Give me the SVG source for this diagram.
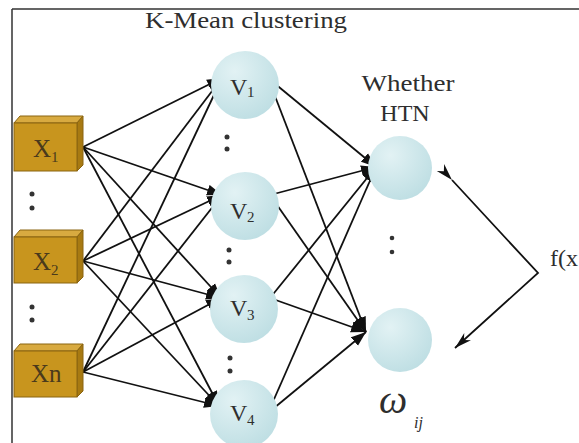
<svg xmlns="http://www.w3.org/2000/svg" width="579" height="443" viewBox="0 0 579 443">
<style>
.lbl{font-family:"Liberation Serif","Times New Roman",serif;fill:#2e2e2e}
.xl{font-family:"Liberation Serif","Times New Roman",serif;fill:#4a3a1c}
.c{stroke:#111;stroke-width:1.8;fill:none}
.front{fill:#C8951E;stroke:#8A6410;stroke-width:1}
.top{fill:#D8AA40;stroke:#8A6410;stroke-width:1}
.side{fill:#A87A12;stroke:#8A6410;stroke-width:1}
.node{fill:url(#cg)}
.dot{fill:#333}
</style>
<defs>
<radialGradient id="cg" cx="0.35" cy="0.3" r="0.8">
<stop offset="0" stop-color="#E2F2F4"/>
<stop offset="1" stop-color="#BCDDE2"/>
</radialGradient>
<marker id="ah" markerUnits="userSpaceOnUse" markerWidth="16" markerHeight="12" refX="15" refY="6" orient="auto">
<path d="M0,0.5 L15,6 L0,11.5 z" fill="#111"/>
</marker>
<marker id="ah2" markerUnits="userSpaceOnUse" markerWidth="18" markerHeight="12" refX="17" refY="6" orient="auto">
<path d="M0,1 L17,6 L0,11 L5,6 z" fill="#111"/>
</marker>
</defs>
<rect width="579" height="443" fill="#fff"/>
<path d="M12,9 H579 M12,9 V443" stroke="#333" stroke-width="1.5" fill="none"/>

<text class="lbl" x="246" y="28" font-size="24" text-anchor="middle" textLength="202" lengthAdjust="spacingAndGlyphs">K-Mean clustering</text>
<text class="lbl" x="408" y="91" font-size="24" text-anchor="middle" textLength="93" lengthAdjust="spacingAndGlyphs">Whether</text>
<text class="lbl" x="405" y="121" font-size="24" text-anchor="middle">HTN</text>

<g id="connectors">
<line class="c" x1="83" y1="147" x2="222" y2="78" marker-end="url(#ah)"/>
<line class="c" x1="83" y1="147" x2="222" y2="195" marker-end="url(#ah)"/>
<line class="c" x1="83" y1="147" x2="221" y2="298" marker-end="url(#ah)"/>
<line class="c" x1="83" y1="147" x2="219" y2="406" marker-end="url(#ah)"/>
<line class="c" x1="83" y1="261" x2="222" y2="78" marker-end="url(#ah)"/>
<line class="c" x1="83" y1="261" x2="222" y2="195" marker-end="url(#ah)"/>
<line class="c" x1="83" y1="261" x2="221" y2="298" marker-end="url(#ah)"/>
<line class="c" x1="83" y1="261" x2="219" y2="406" marker-end="url(#ah)"/>
<line class="c" x1="83" y1="372" x2="222" y2="78" marker-end="url(#ah)"/>
<line class="c" x1="83" y1="372" x2="222" y2="195" marker-end="url(#ah)"/>
<line class="c" x1="83" y1="372" x2="221" y2="298" marker-end="url(#ah)"/>
<line class="c" x1="83" y1="372" x2="219" y2="406" marker-end="url(#ah)"/>
<line class="c" x1="268" y1="78" x2="376" y2="167" marker-end="url(#ah)"/>
<line class="c" x1="268" y1="78" x2="366" y2="332" marker-end="url(#ah)"/>
<line class="c" x1="270" y1="195" x2="376" y2="167" marker-end="url(#ah)"/>
<line class="c" x1="270" y1="195" x2="366" y2="332" marker-end="url(#ah)"/>
<line class="c" x1="270" y1="298" x2="376" y2="167" marker-end="url(#ah)"/>
<line class="c" x1="270" y1="298" x2="366" y2="332" marker-end="url(#ah)"/>
<line class="c" x1="268" y1="413" x2="376" y2="167" marker-end="url(#ah)"/>
<line class="c" x1="268" y1="413" x2="366" y2="332" marker-end="url(#ah)"/>
<polyline class="c" points="452,180 538,273 455,348" marker-start="url(#ah2)" marker-end="url(#ah2)"/>
</g>

<g id="x1">
<polygon class="top" points="14,123 20,116 83,116 77,123"/>
<polygon class="side" points="77,123 83,116 83,165 77,171"/>
<rect class="front" x="14" y="123" width="63" height="48"/>
<text class="xl" x="33" y="157" font-size="25">X</text>
<text class="xl" x="51" y="162" font-size="15">1</text>
</g>
<g id="x2">
<polygon class="top" points="14,237 20,230 83,230 77,237"/>
<polygon class="side" points="77,237 83,230 83,277 77,283"/>
<rect class="front" x="14" y="237" width="63" height="46"/>
<text class="xl" x="33" y="270" font-size="25">X</text>
<text class="xl" x="51" y="275" font-size="15">2</text>
</g>
<g id="xn">
<polygon class="top" points="14,351 20,344 83,344 77,351"/>
<polygon class="side" points="77,351 83,344 83,391 77,397"/>
<rect class="front" x="14" y="351" width="63" height="46"/>
<text class="xl" x="31" y="382" font-size="25">Xn</text>
</g>

<g id="xdots">
<circle class="dot" cx="32" cy="194" r="2.5"/><circle class="dot" cx="32" cy="208" r="2.5"/>
<circle class="dot" cx="32" cy="307" r="2.5"/><circle class="dot" cx="32" cy="320" r="2.5"/>
</g>

<g id="v1">
<circle class="node" cx="245" cy="85" r="34"/>
<text class="lbl" x="230" y="95" font-size="24">V</text>
<text class="lbl" x="247" y="97" font-size="15">1</text>
</g>
<g id="v2">
<circle class="node" cx="245" cy="206" r="34"/>
<text class="lbl" x="230" y="219" font-size="24">V</text>
<text class="lbl" x="247" y="222" font-size="15">2</text>
</g>
<g id="v3">
<circle class="node" cx="244" cy="309" r="34"/>
<text class="lbl" x="230" y="316" font-size="24">V</text>
<text class="lbl" x="247" y="320" font-size="15">3</text>
</g>
<g id="v4">
<circle class="node" cx="244" cy="414" r="34"/>
<text class="lbl" x="230" y="421" font-size="24">V</text>
<text class="lbl" x="247" y="425" font-size="15">4</text>
</g>
<g id="vdots">
<circle class="dot" cx="227" cy="137" r="2.5"/><circle class="dot" cx="227" cy="149" r="2.5"/>
<circle class="dot" cx="229" cy="250" r="2.5"/><circle class="dot" cx="229" cy="262" r="2.5"/>
<circle class="dot" cx="230" cy="358" r="2.5"/><circle class="dot" cx="230" cy="371" r="2.5"/>
</g>

<g id="o1">
<circle class="node" cx="400" cy="168" r="32"/>
</g>
<g id="o2">
<circle class="node" cx="400" cy="340" r="32"/>
</g>
<g id="odots">
<circle class="dot" cx="392" cy="238" r="2.3" fill="#5a4a30"/><circle class="dot" cx="392" cy="252" r="2.3" fill="#5a4a30"/>
</g>

<text class="lbl" x="550" y="266" font-size="24">f(x</text>
<g id="omega">
<text class="lbl" x="379" y="413" font-size="40" font-style="italic">ω</text>
<text class="lbl" x="414" y="428" font-size="16" font-style="italic">ij</text>
</g>
</svg>
